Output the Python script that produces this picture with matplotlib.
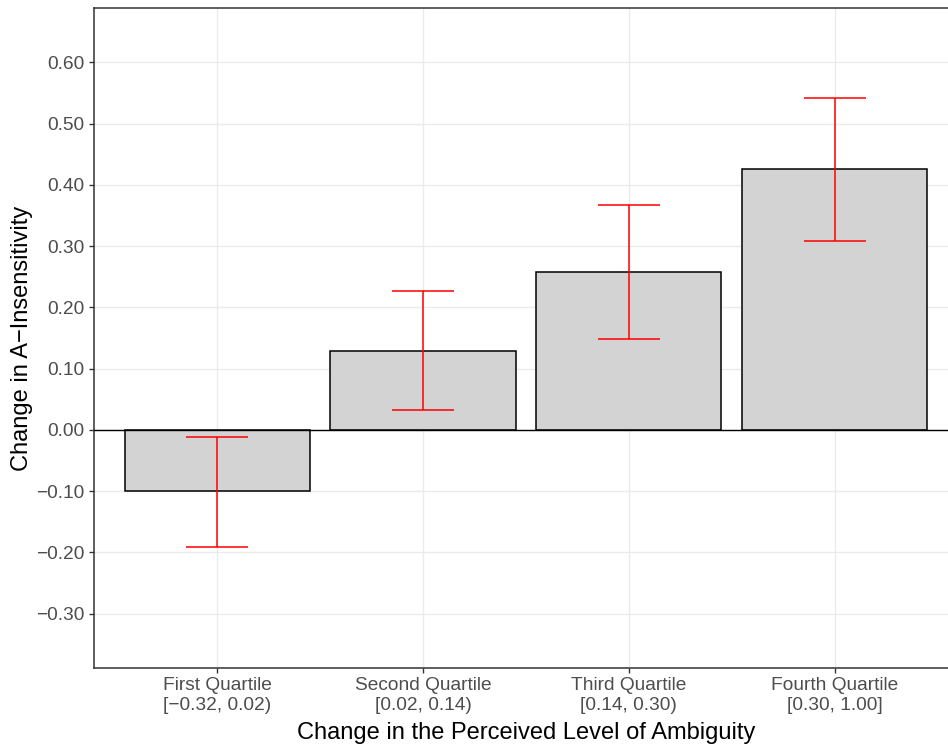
import matplotlib
matplotlib.use("Agg")
import matplotlib.pyplot as plt

# data
categories = ["First Quartile\n[\u22120.32, 0.02)", "Second Quartile\n[0.02, 0.14)",
              "Third Quartile\n[0.14, 0.30)", "Fourth Quartile\n[0.30, 1.00]"]
means = [-0.100, 0.129, 0.258, 0.425]
ci_low = [-0.191, 0.033, 0.148, 0.309]
ci_high = [-0.011, 0.226, 0.367, 0.542]
yticks = [-0.3, -0.2, -0.1, 0.0, 0.1, 0.2, 0.3, 0.4, 0.5, 0.6]

plt.rcParams['font.family'] = ['Liberation Sans', 'DejaVu Sans']

fig = plt.figure(figsize=(9.48, 7.45), dpi=100)
ax = fig.add_axes([93.7 / 948, 77.3 / 745, 864.5 / 948, 659.4 / 745])

x = list(range(1, len(categories) + 1))

# grid
ax.set_axisbelow(True)
ax.grid(True, color='#EBEBEB', linewidth=1.0)

ax.bar(x, means, width=0.9, color='#D3D3D3', edgecolor='black', linewidth=1.1, zorder=2)
ax.axhline(0, color='black', linewidth=1.0, zorder=3)

# error bars
cap = 0.15
ax.vlines(x, ci_low, ci_high, color='red', linewidth=1.1, zorder=4)
ax.hlines(ci_low, [v - cap for v in x], [v + cap for v in x], color='red', linewidth=1.1, zorder=4)
ax.hlines(ci_high, [v - cap for v in x], [v + cap for v in x], color='red', linewidth=1.1, zorder=4)

ax.set_xlim(0.4, 4.6)
ax.set_ylim(-0.388, 0.688)
ax.set_xticks(x)
ax.set_xticklabels(categories, linespacing=1.25)
ax.set_yticks(yticks)
ax.set_yticklabels([f"{v:.2f}".replace('-', '\u2212') for v in yticks])

ax.tick_params(axis='both', colors='#333333', labelcolor='#4D4D4D', labelsize=13.8,
               length=3.5, width=1.0, pad=3)

for side in ['left', 'bottom', 'top']:
    ax.spines[side].set_color('#333333')
    ax.spines[side].set_linewidth(1.1)
ax.spines['right'].set_visible(False)

ax.set_xlabel("Change in the Perceived Level of Ambiguity", fontsize=17, color='black', labelpad=5.5)
ax.set_ylabel("Change in A\u2212Insensitivity", fontsize=17, color='black', labelpad=2.5)

fig.savefig("out.png", dpi=100)
